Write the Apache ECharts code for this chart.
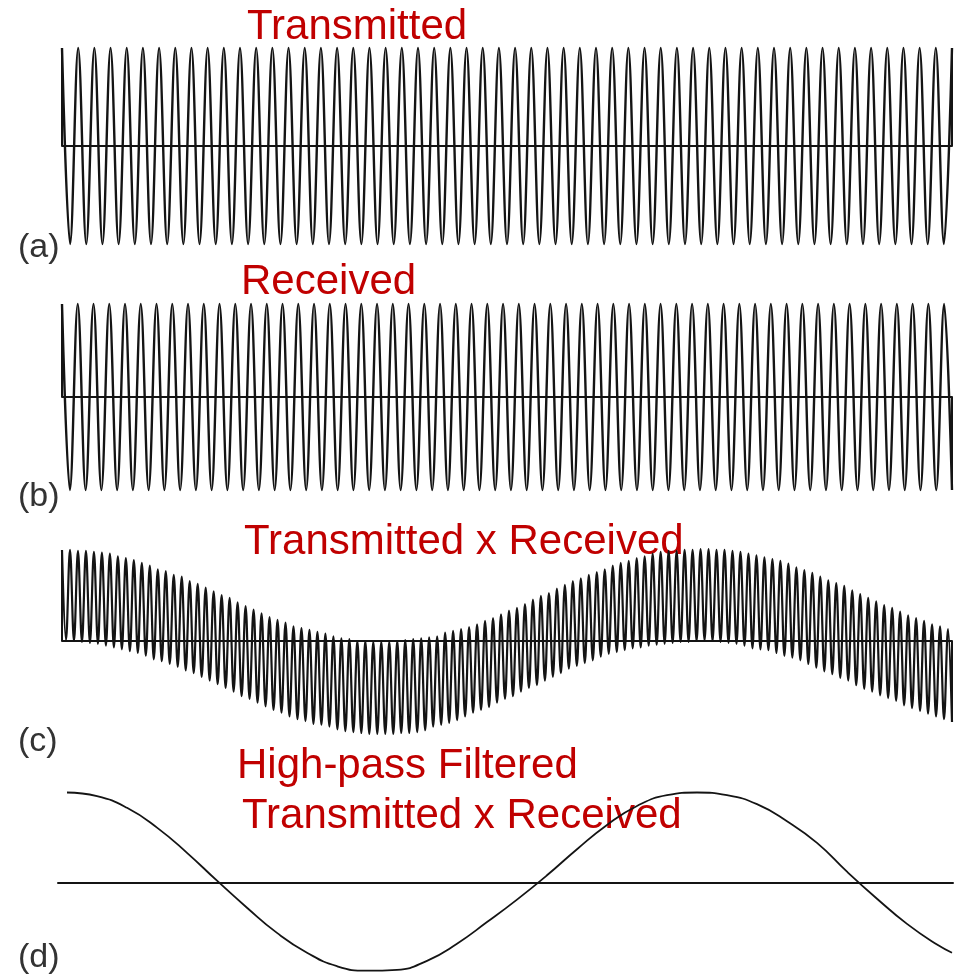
<!DOCTYPE html>
<html><head><meta charset="utf-8">
<script src="https://cdn.jsdelivr.net/npm/echarts@6/dist/echarts.min.js"></script>
<style>html,body{margin:0;padding:0;background:#fff}#c{width:955px;height:976px}</style>
</head><body><div id="c"></div>
<script>
// (a) Transmitted: successive extrema (peak, trough, ...) of the carrier
const transmitted = [
 1,-1,1,-1,1,-1,1,-1,1,-1,
 1,-1,1,-1,1,-1,1,-1,1,-1,
 1,-1,1,-1,1,-1,1,-1,1,-1,
 1,-1,1,-1,1,-1,1,-1,1,-1,
 1,-1,1,-1,1,-1,1,-1,1,-1,
 1,-1,1,-1,1,-1,1,-1,1,-1,
 1,-1,1,-1,1,-1,1,-1,1,-1,
 1,-1,1,-1,1,-1,1,-1,1,-1,
 1,-1,1,-1,1,-1,1,-1,1,-1,
 1,-1,1,-1,1,-1,1,-1,1,-1,
 1,-1,1,-1,1,-1,1,-1,1,-1,
 1
];
// (b) Received: successive extrema (slightly higher frequency)
const received = [
 1,-1,1,-1,1,-1,1,-1,1,-1,
 1,-1,1,-1,1,-1,1,-1,1,-1,
 1,-1,1,-1,1,-1,1,-1,1,-1,
 1,-1,1,-1,1,-1,1,-1,1,-1,
 1,-1,1,-1,1,-1,1,-1,1,-1,
 1,-1,1,-1,1,-1,1,-1,1,-1,
 1,-1,1,-1,1,-1,1,-1,1,-1,
 1,-1,1,-1,1,-1,1,-1,1,-1,
 1,-1,1,-1,1,-1,1,-1,1,-1,
 1,-1,1,-1,1,-1,1,-1,1,-1,
 1,-1,1,-1,1,-1,1,-1,1,-1,
 1,-1,1,-1
];
// (c) Transmitted x Received: peak values and trough values, read in order
const productPeaks = [
 0.99,0.99,0.98,0.98,0.97,0.96,0.95,0.92,0.90,0.88,
 0.85,0.82,0.78,0.76,0.72,0.70,0.65,0.62,0.58,0.54,
 0.50,0.47,0.42,0.38,0.34,0.30,0.26,0.23,0.20,0.16,
 0.14,0.12,0.10,0.08,0.05,0.03,0.02,0.00,0.00,-0.01,
 -0.01,-0.01,0.00,0.01,0.02,0.03,0.04,0.05,0.09,0.11,
 0.13,0.15,0.18,0.22,0.25,0.29,0.33,0.36,0.40,0.45,
 0.49,0.52,0.57,0.61,0.65,0.68,0.72,0.75,0.78,0.82,
 0.85,0.87,0.90,0.92,0.95,0.97,0.98,0.98,0.99,0.99,
 1.00,1.00,0.99,0.99,0.98,0.97,0.95,0.93,0.91,0.89,
 0.87,0.84,0.80,0.77,0.74,0.70,0.66,0.63,0.60,0.55,
 0.51,0.47,0.43,0.39,0.36,0.32,0.28,0.25,0.22,0.18,
 0.16,0.13
];
const productTroughs = [
 0.01,0.00,-0.01,-0.02,-0.03,-0.05,-0.07,-0.09,-0.11,-0.13,
 -0.16,-0.20,-0.22,-0.25,-0.28,-0.32,-0.35,-0.39,-0.43,-0.47,
 -0.51,-0.55,-0.60,-0.63,-0.67,-0.71,-0.75,-0.78,-0.82,-0.85,
 -0.87,-0.90,-0.91,-0.93,-0.96,-0.98,-0.99,-1.00,-1.01,-1.01,
 -1.01,-1.01,-1.00,-1.00,-0.99,-0.97,-0.93,-0.91,-0.89,-0.86,
 -0.82,-0.78,-0.75,-0.72,-0.67,-0.63,-0.60,-0.55,-0.51,-0.48,
 -0.43,-0.39,-0.35,-0.30,-0.27,-0.24,-0.21,-0.17,-0.14,-0.12,
 -0.10,-0.08,-0.07,-0.05,-0.04,-0.03,-0.02,-0.01,-0.01,0.00,
 0.01,0.00,-0.01,-0.02,-0.03,-0.05,-0.08,-0.09,-0.10,-0.13,
 -0.16,-0.18,-0.21,-0.25,-0.29,-0.33,-0.36,-0.40,-0.43,-0.48,
 -0.52,-0.55,-0.59,-0.62,-0.65,-0.70,-0.73,-0.76,-0.79,-0.82,
 -0.85,-0.88
];
// (d) Filtered product: time samples and values
const filteredT = [5,35,65,95,125,155,185,215,245,275,305,335,365,395,425,455,485,515,545,575,605,635,665,695,725,755,785,815,845,875,890];
const filteredV = [1.00,0.96,0.83,0.61,0.33,0.02,-0.28,-0.56,-0.78,-0.93,-0.98,-0.97,-0.87,-0.68,-0.44,-0.19,0.08,0.37,0.64,0.85,0.97,1.00,0.97,0.87,0.68,0.44,0.12,-0.18,-0.46,-0.69,-0.78];

const titles = [
  {text:'Transmitted', x:247, y:27},
  {text:'Received', x:241, y:282},
  {text:'Transmitted x Received', x:244, y:542},
  {text:'High-pass Filtered', x:237, y:766},
  {text:'Transmitted x Received', x:242, y:816}
];
const panelLabels = [
  {text:'(a)', y:248},
  {text:'(b)', y:497},
  {text:'(c)', y:742},
  {text:'(d)', y:958}
];

const LINE = '#141414';
const chart = echarts.init(document.getElementById('c'));

const product = [];
productPeaks.forEach((p, i) => { product.push(p); product.push(productTroughs[i]); });
const toPairs = arr => arr.map((v, i) => [i, v]);

const grids = [
  {left:62, width:890, top:28.4, height:235.2, outerBoundsMode:'none'},
  {left:62, width:890, top:285.4, height:223.2, outerBoundsMode:'none'},
  {left:62, width:890, top:530.6, height:220.8, outerBoundsMode:'none'},
  {left:58, width:895, top:788, height:184.5, outerBoundsMode:'none'}
];
const xRanges = [
  [0, transmitted.length - 1],
  [0, received.length - 1],
  [0, product.length - 1],
  [-4, 891]
];
const yRanges = [[-1.2,1.2],[-1.2,1.2],[-1.2,1.2],[-1.0,1.05]];
const xAxis = grids.map((g, i) => ({
  type:'value', gridIndex:i, min:xRanges[i][0], max:xRanges[i][1],
  axisLine:{show:true, onZero:true, lineStyle:{color:LINE, width:2}},
  axisTick:{show:false}, axisLabel:{show:false}, splitLine:{show:false}
}));
const yAxis = grids.map((g, i) => ({
  type:'value', gridIndex:i, min:yRanges[i][0], max:yRanges[i][1], show:false, splitLine:{show:false}
}));

function wave(i, arr, width){
  return {type:'line', xAxisIndex:i, yAxisIndex:i, data:toPairs(arr), showSymbol:false,
    smooth:0.364, smoothMonotone:'x', clip:false, silent:true,
    lineStyle:{color:LINE, width:width}};
}
function edge(i, x, v){
  return {type:'line', xAxisIndex:i, yAxisIndex:i, data:[[x,0],[x,v]], showSymbol:false,
    clip:false, silent:true, lineStyle:{color:LINE, width:2}};
}

const series = [
  wave(0, transmitted, 2.4),
  edge(0, 0, transmitted[0]),
  edge(0, transmitted.length-1, transmitted[transmitted.length-1]),
  wave(1, received, 2.4),
  edge(1, 0, received[0]),
  edge(1, received.length-1, received[received.length-1]),
  wave(2, product, 2.2),
  edge(2, 0, product[0]),
  edge(2, product.length-1, product[product.length-1]),
  {type:'line', xAxisIndex:3, yAxisIndex:3, data:filteredT.map((t,i)=>[t, filteredV[i]]),
    showSymbol:false, smooth:0.5, clip:false, silent:true, lineStyle:{color:LINE, width:1.8}}
];

const graphic = [];
titles.forEach(t => graphic.push({type:'text', x:t.x, y:t.y, silent:true,
  style:{text:t.text, font:'42px "Liberation Sans", Arial, sans-serif', fill:'#C00000', textVerticalAlign:'middle'}}));
panelLabels.forEach(p => graphic.push({type:'text', x:18, y:p.y, silent:true,
  style:{text:p.text, font:'34px "Liberation Sans", Arial, sans-serif', fill:'#333333', textVerticalAlign:'middle'}}));

chart.setOption({
  animation:false,
  backgroundColor:'#ffffff',
  grid:grids,
  xAxis:xAxis,
  yAxis:yAxis,
  series:series,
  graphic:graphic
});
</script>
</body></html>
